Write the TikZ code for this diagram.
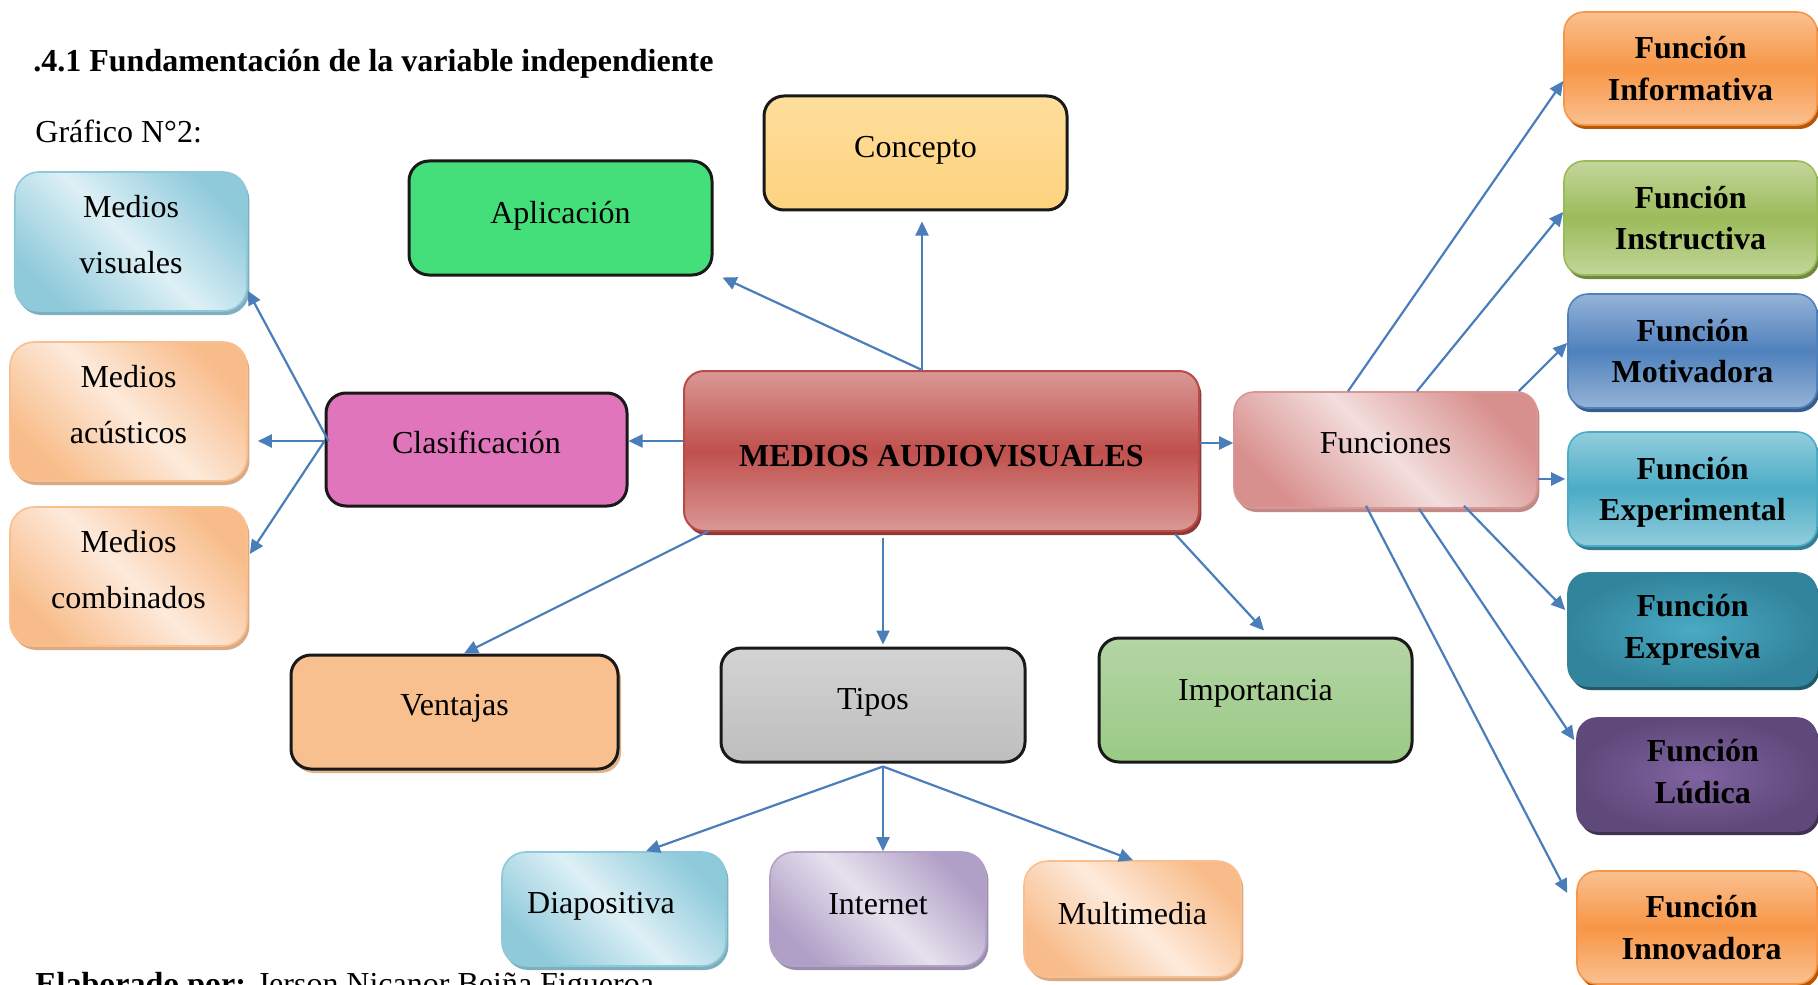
\documentclass[tikz,border=0pt]{standalone}
\usepackage{fontspec}
\setmainfont{Liberation Serif}
\usetikzlibrary{calc,shadows,arrows.meta}
\definecolor{arrowblue}{HTML}{4A7EBB}
\definecolor{visL}{HTML}{DDF0F5}
\definecolor{visD}{HTML}{8FCADB}
\definecolor{visB}{HTML}{8EC9D9}
\definecolor{visS}{HTML}{7FAFBF}
\definecolor{pchL}{HTML}{FDEADB}
\definecolor{pchD}{HTML}{F8BC8A}
\definecolor{pchB}{HTML}{F9BF8F}
\definecolor{pchS}{HTML}{D9AA84}
\definecolor{pnkL}{HTML}{F2DEDD}
\definecolor{pnkD}{HTML}{D8908E}
\definecolor{pnkB}{HTML}{D99694}
\definecolor{pnkS}{HTML}{C08A88}
\definecolor{purL}{HTML}{E6E1ED}
\definecolor{purD}{HTML}{B09FC6}
\definecolor{purB}{HTML}{B3A2C7}
\definecolor{purS}{HTML}{9C8EAE}
\definecolor{aplG}{HTML}{44DF7A}
\definecolor{conT}{HTML}{FEDE9C}
\definecolor{conB}{HTML}{FDD37E}
\definecolor{claP}{HTML}{E075BB}
\definecolor{venO}{HTML}{F9C08F}
\definecolor{venS}{HTML}{E3B38C}
\definecolor{tipT}{HTML}{D3D3D3}
\definecolor{tipB}{HTML}{BEBEBE}
\definecolor{impT}{HTML}{B4D5A5}
\definecolor{impB}{HTML}{9ACA85}
\definecolor{mainL}{HTML}{DA9895}
\definecolor{mainM}{HTML}{C0504D}
\definecolor{mainB}{HTML}{B84A47}
\definecolor{mainS}{HTML}{8C3836}
\definecolor{orL}{HTML}{FAC090}
\definecolor{orM}{HTML}{F79646}
\definecolor{orS}{HTML}{B65708}
\definecolor{grL}{HTML}{C3D69B}
\definecolor{grM}{HTML}{9BBB59}
\definecolor{grS}{HTML}{71893F}
\definecolor{blL}{HTML}{95B3D7}
\definecolor{blM}{HTML}{4F81BD}
\definecolor{blS}{HTML}{385D8A}
\definecolor{aqL}{HTML}{92CDDC}
\definecolor{aqM}{HTML}{4BACC6}
\definecolor{aqS}{HTML}{357D91}
\definecolor{tlI}{HTML}{4AAAC4}
\definecolor{tlO}{HTML}{31849B}
\definecolor{tlS}{HTML}{215968}
\definecolor{ppI}{HTML}{8064A2}
\definecolor{ppO}{HTML}{5F497A}
\definecolor{ppS}{HTML}{3F3151}
\begin{document}
\begin{tikzpicture}[x=0.5pt,y=-0.5pt,
  base/.style={rounded corners=10pt, align=center, inner sep=0pt, text=black,
    font=\fontsize{16}{19}\selectfont},
  blk/.style={base, draw=black!90, line width=1.5pt},
  diag/.style n args={3}{base, rounded corners=12pt, draw=#3, line width=0.8pt,
    left color=#1, right color=#1, middle color=#2, shading angle=-45},
  vband/.style n args={3}{base, draw=#3, line width=0.8pt,
    top color=#1, bottom color=#1, middle color=#2},
  shad/.style={drop shadow={shadow xshift=1.2pt, shadow yshift=-2pt, fill=#1, opacity=1}},
  two/.style={font=\fontsize{16}{27.8}\selectfont},
  fbox/.style={font=\bfseries\fontsize{16}{20.8}\selectfont},
  arr/.style={draw=arrowblue, line width=1.1pt, -{Triangle[length=7pt,width=6.5pt]}}
]
\useasboundingbox (0,0) rectangle (1818,984);
\clip (0,0) rectangle (1818,984);

% texts
\node[anchor=west, inner sep=0pt, font=\bfseries\fontsize{16}{19}\selectfont] (title) at (33,63.5)
  {.4.1 Fundamentación de la variable independiente};
\node[anchor=west, inner sep=0pt, font=\fontsize{16}{19}\selectfont] (graf) at (35,131) {Gráfico N°2:};
\node[anchor=base west, inner sep=0pt, font=\fontsize{16}{19}\selectfont] (elab) at (35,994)
  {\textbf{Elaborado por:} Jerson Nicanor Beiña Figueroa};

% left column
\node[diag={visD}{visL}{visB}, shad=visS, two, text depth=7pt, minimum width=116pt, minimum height=69.5pt] (mvis) at (131,241.5) {Medios\\visuales};
\node[diag={pchD}{pchL}{pchB}, shad=pchS, two, text depth=7pt, minimum width=118.5pt, minimum height=69.5pt] (macu) at (128.5,411.5) {Medios\\acústicos};
\node[diag={pchD}{pchL}{pchB}, shad=pchS, two, text depth=7pt, minimum width=118.5pt, minimum height=69.5pt] (mcom) at (128.5,576.5) {Medios\\combinados};

% top
\node[blk, fill=aplG, text depth=5.9pt, minimum width=151.5pt, minimum height=57pt] (apl) at (560.5,218) {Aplicación};
\node[blk, top color=conT, bottom color=conB, text depth=5.9pt, minimum width=151.5pt, minimum height=57pt] (con) at (915.5,153) {Concepto};

% middle row
\node[blk, fill=claP, text depth=7pt, minimum width=150.5pt, minimum height=56.5pt] (cla) at (476.5,449.5) {Clasificación};
\node[vband={mainL}{mainM}{mainB}, shad=mainS, line width=1pt, minimum width=257.5pt, minimum height=80pt,
  text height=15.2pt, text depth=0pt,
  font=\bfseries\fontsize{16}{19}\selectfont] (main) at (941.5,451) {MEDIOS AUDIOVISUALES};
\node[diag={pnkD}{pnkL}{pnkB}, shad=pnkS, rounded corners=10pt, text depth=7pt, minimum width=151.5pt, minimum height=58pt] (fun) at (1385.5,450) {Funciones};

% lower row
\node[blk, fill=venO, drop shadow={shadow xshift=1.5pt, shadow yshift=-2pt, fill=venS, opacity=1},
  text depth=6.9pt, minimum width=163.5pt, minimum height=57pt] (ven) at (454.5,712) {Ventajas};
\node[blk, top color=tipT, bottom color=tipB, text depth=5.9pt, minimum width=152pt, minimum height=57pt] (tip) at (873,705) {Tipos};
\node[blk, top color=impT, bottom color=impB, text depth=10.5pt, minimum width=156.5pt, minimum height=62pt] (imp) at (1255.5,700) {Importancia};

% bottom row
\node[diag={visD}{visL}{visB}, shad=visS, text depth=5.9pt, minimum width=112pt, minimum height=57pt] (dia) at (614,909) {Diapositiva\hspace*{13pt}};
\node[diag={purD}{purL}{purB}, shad=purS, text depth=4.6pt, minimum width=108pt, minimum height=57pt] (int) at (878,909) {Internet};
\node[diag={pchD}{pchL}{pchB}, shad=pchS, text depth=6pt, minimum width=108.5pt, minimum height=58pt] (mul) at (1132.5,919) {Multimedia};

% right column
\node[vband={orL}{orM}{orM}, shad=orS, fbox, minimum width=126.5pt, minimum height=56.5pt] (f1) at (1690.5,68.5) {Función\\Informativa};
\node[vband={grL}{grM}{grM}, shad=grS, fbox, minimum width=126.5pt, minimum height=57pt] (f2) at (1690.5,218) {Función\\Instructiva};
\node[vband={blL}{blM}{blM}, shad=blS, fbox, minimum width=124.5pt, minimum height=57pt] (f3) at (1692.5,351) {Función\\Motivadora};
\node[vband={aqL}{aqM}{aqM}, shad=aqS, fbox, text depth=0pt, minimum width=124.5pt, minimum height=57pt] (f4) at (1692.5,489) {Función\\Experimental};
\node[base, draw=tlO, line width=0.8pt, inner color=tlI, outer color=tlO, shad=tlS, fbox, minimum width=124.5pt, minimum height=56.5pt] (f5) at (1692.5,629.5) {Función\\Expresiva};
\node[base, draw=ppO, line width=0.8pt, inner color=ppI, outer color=ppO, shad=ppS, fbox, text depth=3.4pt, minimum width=120pt, minimum height=56.5pt] (f6) at (1697,774.5) {\hspace*{5.8pt}Función\\\hspace*{5.8pt}Lúdica};
\node[vband={orL}{orM}{orM}, shad=orS, fbox, minimum width=120pt, minimum height=56.5pt] (f7) at (1697,927.5) {\hspace*{4.6pt}Función\\\hspace*{4.6pt}Innovadora};

% connectors
\draw[arr] ($(main.north)+(-19.5,0)$) -- ($(con.south)+(6.5,10)$);
\draw[arr] ($(main.north)+(-19.5,0)$) -- ($(apl.south east)+(9,1)$);
\draw[arr] ($(main.west)+(0,-10)$) -- ($(cla.east)+(0,-8.5)$);
\draw[arr] ($(cla.west)+(4,-8.5)$) -- ($(mvis.south east)+(0,-21)$);
\draw[arr] ($(cla.west)+(0,-8.5)$) -- ($(macu.east)+(10,29.5)$);
\draw[arr] ($(cla.west)+(0,-8.5)$) -- ($(mcom.east)+(2,-22.5)$);
\draw[arr] ($(main.south west)+(26,-1)$) -- ($(ven.north)+(9.5,0)$);
\draw[arr] ($(main.south)+(-58.5,6)$) -- ($(tip.north)+(10,-2)$);
\draw[arr] ($(main.south east)+(-25,2)$) -- ($(imp.north)+(8.5,-6)$);
\draw[arr] ($(main.east)+(0,-8)$) -- ($(fun.west)+(0,-7)$);
\draw[arr] ($(tip.south)+(10,3)$) -- ($(dia.north)+(32,0)$);
\draw[arr] ($(tip.south)+(10,3)$) -- ($(int.north)+(5,0)$);
\draw[arr] ($(tip.south)+(10,3)$) -- ($(mul.north)+(0.5,0)$);
\draw[arr] ($(fun.north)+(-37.5,0)$) -- ($(f1.west)+(0,12.5)$);
\draw[arr] ($(fun.north)+(31.5,0)$) -- ($(f2.west)+(0,-6)$);
\draw[arr] ($(fun.north east)+(-19,0)$) -- ($(f3.west)+(0,-8)$);
\draw[arr] ($(fun.east)+(0,29)$) -- ($(f4.west)+(-2,-10)$);
\draw[arr] ($(fun.south)+(78.5,-3)$) -- ($(f5.west)+(-2,-19.5)$);
\draw[arr] ($(fun.south)+(33.5,0)$) -- ($(f6.west)+(-2,-34.5)$);
\draw[arr] ($(fun.south)+(-19.5,-3)$) -- ($(f7.west)+(-9,-34.5)$);
\end{tikzpicture}
\end{document}
